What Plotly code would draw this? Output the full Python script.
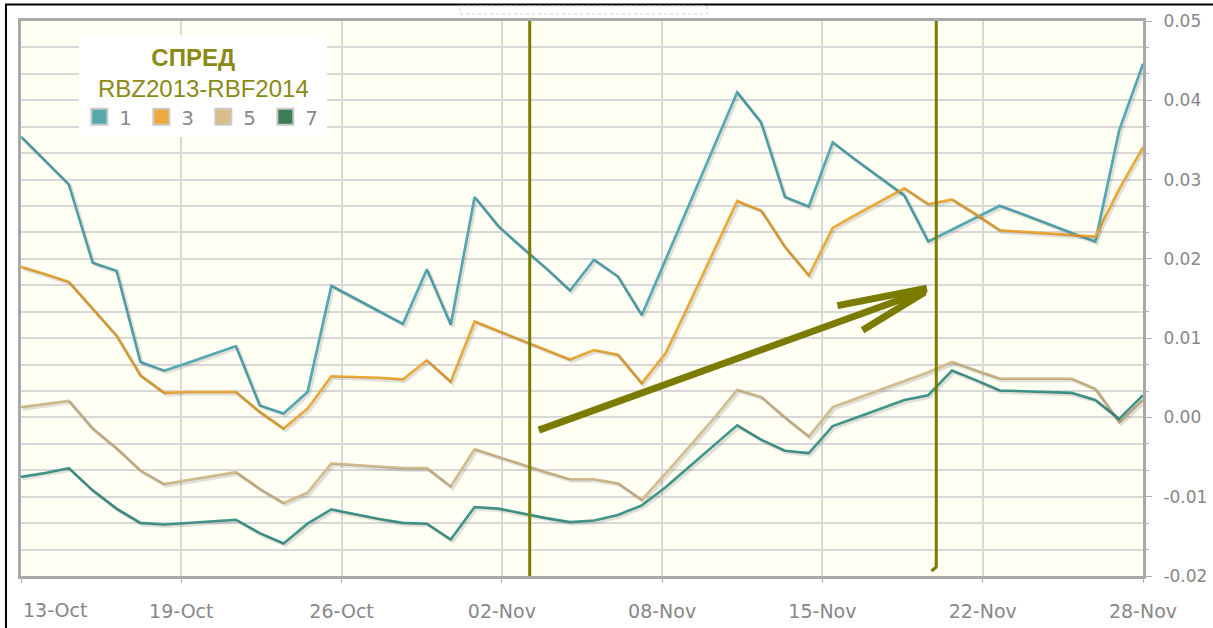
import plotly.graph_objects as go

# ---------------- data ----------------
x_tick_labels = ["13-Oct", "19-Oct", "26-Oct", "02-Nov", "08-Nov", "15-Nov", "22-Nov", "28-Nov"]
point_index = list(range(48))

series_names = ["1", "3", "5", "7"]

s1 = [0.0354, 0.0324, 0.0294, 0.0195, 0.0185, 0.0070, 0.0059, 0.0069, 0.0079, 0.0090,
      0.0015, 0.0005, 0.0032, 0.0166, 0.0150, 0.0134, 0.0118, 0.0187, 0.0117, 0.0278,
      0.0241, 0.0214, 0.0188, 0.0160, 0.0199, 0.0178, 0.0129, 0.0199, 0.0270, 0.0339,
      0.0410, 0.0372, 0.0278, 0.0266, 0.0347, 0.0324, 0.0302, 0.0280, 0.0222, 0.0237,
      0.0252, 0.0267, 0.0256, 0.0244, 0.0233, 0.0222, 0.0362, 0.0446]

s3 = [0.0190, 0.0181, 0.0171, 0.0137, 0.0103, 0.0053, 0.0031, 0.0032, 0.0032, 0.0032,
      0.0007, -0.0014, 0.0011, 0.0052, 0.0051, 0.0050, 0.0048, 0.0072, 0.0045, 0.0121,
      0.0109, 0.0097, 0.0085, 0.0073, 0.0085, 0.0079, 0.0043, 0.0081, 0.0144, 0.0208,
      0.0273, 0.0261, 0.0215, 0.0179, 0.0239, 0.0256, 0.0272, 0.0289, 0.0269, 0.0275,
      0.0256, 0.0236, 0.0234, 0.0232, 0.0230, 0.0228, 0.0288, 0.0341]

s5 = [0.0013, 0.0017, 0.0021, -0.0014, -0.0039, -0.0067, -0.0084, -0.0079, -0.0074, -0.0069,
      -0.0090, -0.0108, -0.0095, -0.0058, -0.0060, -0.0062, -0.0064, -0.0064, -0.0087, -0.0040,
      -0.0050, -0.0060, -0.0069, -0.0078, -0.0078, -0.0083, -0.0104, -0.0071, -0.0037, -0.0002,
      0.0035, 0.0026, 0.0000, -0.0024, 0.0013, 0.0024, 0.0035, 0.0046, 0.0057, 0.0070,
      0.0059, 0.0049, 0.0049, 0.0049, 0.0049, 0.0036, -0.0006, 0.0022]

s7 = [-0.0075, -0.0070, -0.0064, -0.0092, -0.0115, -0.0133, -0.0135, -0.0133, -0.0131, -0.0129,
      -0.0146, -0.0159, -0.0134, -0.0116, -0.0122, -0.0128, -0.0133, -0.0134, -0.0154, -0.0113,
      -0.0115, -0.0121, -0.0127, -0.0132, -0.0130, -0.0123, -0.0111, -0.0088, -0.0062, -0.0037,
      -0.0010, -0.0028, -0.0042, -0.0045, -0.0011, 0.0000, 0.0011, 0.0022, 0.0028, 0.0059,
      0.0047, 0.0034, 0.0033, 0.0032, 0.0031, 0.0022, -0.0002, 0.0028]

y_tick_values = [-0.02, -0.01, 0.00, 0.01, 0.02, 0.03, 0.04, 0.05]
y_tick_labels = ["-0.02", "-0.01", "0.00", "0.01", "0.02", "0.03", "0.04", "0.05"]

legend_title_1 = "СПРЕД"
legend_title_2 = "RBZ2013-RBF2014"

# hand-drawn annotations (x in point index units, y in value units)
marker_lines_x = [21.31, 38.34]
arrow_segments = [
    (21.69, -0.0016, 37.90, 0.0160),
    (34.20, 0.0141, 37.95, 0.0163),
    (35.25, 0.0110, 37.85, 0.0158),
]

# ---------------- style ----------------
line_colors = ["#52a9b3", "#eda936", "#d3bd8e", "#3f9689"]
legend_colors = ["#55a9aa", "#eda93a", "#d9be88", "#3b7d55"]
olive = "#7b7b00"
tick_font = dict(family="DejaVu Sans", size=19, color="#878787")
ytick_font = dict(family="DejaVu Sans", size=17, color="#878787")

X_RANGE = [0, point_index[-1]]
Y_RANGE = [-0.02, 0.05]
# shadow offset (pixels -> axis units) for the soft drop shadow under each line
shadow_dx = 2.0 / (1122 / X_RANGE[1])
shadow_dy = 2.0 / (555 / (Y_RANGE[1] - Y_RANGE[0]))

fig = go.Figure()

for vals in [s1, s3, s5, s7]:
    fig.add_trace(go.Scatter(x=point_index, y=vals, mode="lines", xaxis="x2", yaxis="y2",
                             line=dict(color="rgba(60,60,60,0.16)", width=3.2),
                             showlegend=False, hoverinfo="skip"))

for name, vals, col in zip(series_names, [s1, s3, s5, s7], line_colors):
    fig.add_trace(go.Scatter(x=point_index, y=vals, mode="lines", name=name,
                             line=dict(color=col, width=2.6), showlegend=False,
                             hoverinfo="x+y"))

for name, col in zip(series_names, legend_colors):
    fig.add_trace(go.Scatter(x=[None], y=[None], mode="markers", name=name,
                             marker=dict(symbol="square", size=16, color=col,
                                         line=dict(color="#c9c9c9", width=2)),
                             showlegend=True))

n_int = len(x_tick_labels) - 1
last = point_index[-1]
tickvals = [i * last / n_int for i in range(len(x_tick_labels))]
ticktext = [""] + x_tick_labels[1:]

fig.update_xaxes(range=X_RANGE, tickmode="array", tickvals=tickvals, ticktext=ticktext,
                 showgrid=True, gridcolor="#d8d8d8", gridwidth=1.5,
                 ticks="outside", ticklen=4, tickcolor="#b0b0b0",
                 showline=True, mirror=True, linecolor="#a9a9a9", linewidth=3,
                 tickfont=tick_font, ticklabelstandoff=12, zeroline=False,
                 automargin=False)

minor_vals = [y_tick_values[0] + i * 0.01 / 3 for i in range(22)]
fig.update_yaxes(range=Y_RANGE, side="right", tickmode="array",
                 tickvals=y_tick_values, ticktext=y_tick_labels,
                 showgrid=True, gridcolor="#d8d8d8", gridwidth=1.5,
                 minor=dict(tickmode="array", tickvals=minor_vals, showgrid=True,
                            gridcolor="#d8d8d8", gridwidth=1.5, ticks="outside",
                            ticklen=3, tickcolor="#b0b0b0"),
                 ticks="outside", ticklen=6, tickcolor="#b0b0b0",
                 showline=True, mirror=True, linecolor="#a9a9a9", linewidth=3,
                 tickfont=ytick_font, ticklabelstandoff=8, zeroline=False,
                 automargin=False)

shapes = []
shapes.append(dict(type="line", xref="x", yref="paper", x0=marker_lines_x[0], x1=marker_lines_x[0],
                   y0=0, y1=1, line=dict(color=olive, width=3)))
shapes.append(dict(type="line", xref="x", yref="paper", x0=marker_lines_x[1], x1=marker_lines_x[1],
                   y0=0.015, y1=1, line=dict(color=olive, width=3)))
shapes.append(dict(type="line", xref="x", yref="paper", x0=marker_lines_x[1], x1=marker_lines_x[1] - 0.2,
                   y0=0.016, y1=0.009, line=dict(color=olive, width=3)))
for (xa, ya, xb, yb) in arrow_segments:
    shapes.append(dict(type="line", xref="x", yref="y", x0=xa, y0=ya, x1=xb, y1=yb,
                       line=dict(color=olive, width=7)))
# image frame + empty title box
shapes.append(dict(type="line", xref="paper", yref="paper", x0=-0.0143, x1=1.07, y0=1.0297, y1=1.0297,
                   line=dict(color="black", width=2)))
shapes.append(dict(type="line", xref="paper", yref="paper", x0=-0.0134, x1=-0.0134, y0=-0.1, y1=1.0297,
                   line=dict(color="black", width=2)))
shapes.append(dict(type="rect", xref="paper", yref="paper", x0=0.3913, x1=0.6114, y0=1.0126, y1=1.027,
                   fillcolor="white", line=dict(color="#d0d0d0", width=1, dash="dot")))

nbsp = "\u00a0"
legend_title = nbsp * 8 + "<b>" + legend_title_1 + "</b><br>" + legend_title_2

fig.update_layout(
    width=1213, height=628,
    margin=dict(l=21, r=70, t=21, b=52),
    paper_bgcolor="white", plot_bgcolor="#fffff4",
    xaxis2=dict(range=[X_RANGE[0] - shadow_dx, X_RANGE[1] - shadow_dx], overlaying="x",
                visible=False),
    yaxis2=dict(range=[Y_RANGE[0] + shadow_dy, Y_RANGE[1] + shadow_dy], overlaying="y",
                visible=False),
    shapes=shapes,
    showlegend=True,
    legend=dict(orientation="h", x=0.052, y=0.975, xanchor="left", yanchor="top",
                bgcolor="white", borderwidth=0,
                font=dict(family="DejaVu Sans", size=20, color="#8a8a8a"),
                entrywidth=17, entrywidthmode="pixels",
                title=dict(text=legend_title, side="top center",
                           font=dict(family="Liberation Sans", size=24, color="#8a8a14"))),
    annotations=[dict(text=x_tick_labels[0], xref="x", yref="paper", x=0, y=-0.0613,
                      xanchor="left", yanchor="middle", showarrow=False, font=tick_font)],
)

fig.write_html("out.html", post_script="document.body.style.margin='0';",
               config={"displayModeBar": False})
